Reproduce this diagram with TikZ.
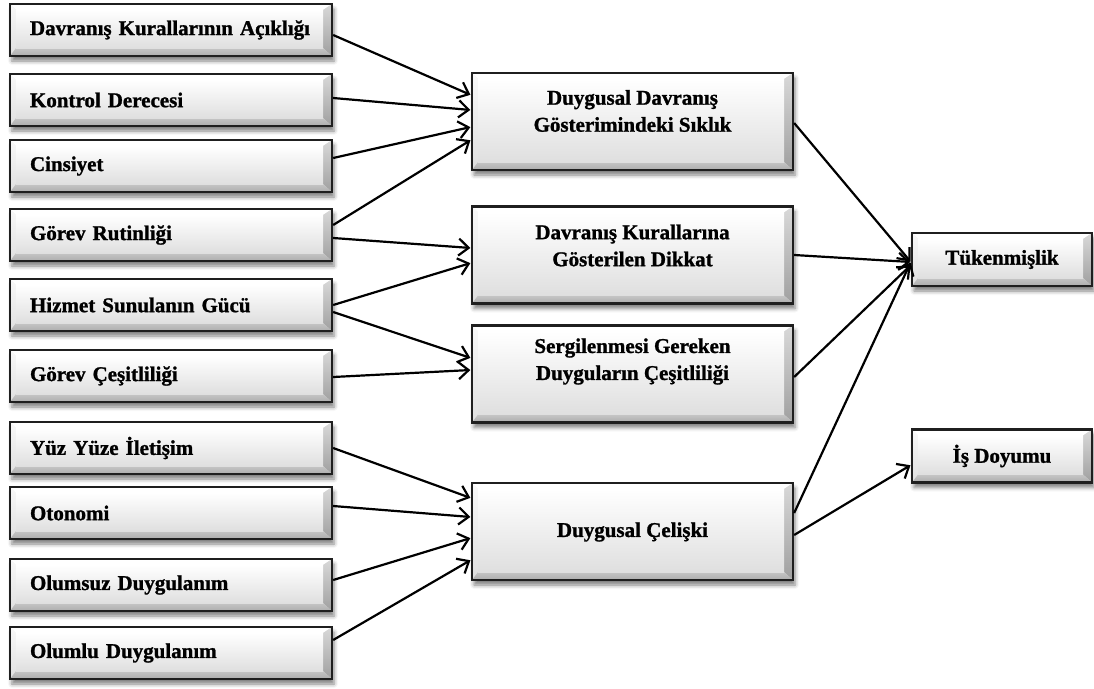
\documentclass[tikz,border=0pt]{standalone}
\usepackage{fontspec}
\setmainfont{Liberation Serif}[BoldFeatures={FakeBold=1.2}]
\usetikzlibrary{arrows.meta,shadows.blur}
\begin{document}
\begin{tikzpicture}[x=1pt,y=-1pt,
  bevbox/.style={draw=black!88, line width=2.3pt, rectangle, fill=gray!20,
    blur shadow={shadow xshift=2pt, shadow yshift=-5pt, shadow blur radius=4pt, shadow opacity=50},
    path picture={
      \coordinate (ppnw) at (path picture bounding box.north west);
      \coordinate (ppne) at (path picture bounding box.north east);
      \coordinate (ppsw) at (path picture bounding box.south west);
      \coordinate (ppse) at (path picture bounding box.south east);
      \fill[white] (ppnw) -- (ppne) -- ([shift={(-9pt,-6pt)}]ppne) -- ([shift={(6pt,-6pt)}]ppnw) -- cycle;
      \shade[top color=gray!5, bottom color=gray!25] (ppnw) -- ([shift={(6pt,-6pt)}]ppnw) -- ([shift={(6pt,8pt)}]ppsw) -- (ppsw) -- cycle;
      \shade[top color=gray!30, bottom color=gray!75] (ppne) -- (ppse) -- ([shift={(-9pt,8pt)}]ppse) -- ([shift={(-9pt,-6pt)}]ppne) -- cycle;
      \shade[top color=gray!45, bottom color=gray!65] (ppsw) -- ([shift={(6pt,8pt)}]ppsw) -- ([shift={(-9pt,8pt)}]ppse) -- (ppse) -- cycle;
      \shade[top color=white, bottom color=gray!25] ([shift={(6pt,-6pt)}]ppnw) rectangle ([shift={(-9pt,8pt)}]ppse);
    }},
  lbox/.style={bevbox, minimum width=322pt, minimum height=52pt, text width=282pt,
    inner xsep=0pt, align=left, font=\bfseries\fontsize{21}{26}\selectfont},
  mbox/.style={bevbox, minimum width=321pt, minimum height=97pt},
  rbox/.style={bevbox, minimum width=180pt, minimum height=53pt, font=\bfseries\fontsize{21}{26}\selectfont},
  txt/.style={align=center, inner sep=0pt, font=\bfseries\fontsize{21}{27}\selectfont},
  arr/.style={line width=2.2pt, -{Straight Barb[length=10pt,width=17pt,line width=2.2pt]}, shorten >=0.5pt}
]
\useasboundingbox (0,0) rectangle (1094,688);

% left column
\node[lbox] (L1) at (171,30) {Davranış Kurallarının Açıklığı};
\node[lbox] (L2) at (171,100) {Kontrol Derecesi};
\node[lbox] (L3) at (171,166) {Cinsiyet};
\node[lbox] (L4) at (171,235) {Görev Rutinliği};
\node[lbox] (L5) at (171,305) {Hizmet Sunulanın Gücü};
\node[lbox] (L6) at (171,376) {Görev Çeşitliliği};
\node[lbox] (L7) at (171,448) {Yüz Yüze İletişim};
\node[lbox] (L8) at (171,513) {Otonomi};
\node[lbox] (L9) at (171,585) {Olumsuz Duygulanım};
\node[lbox] (L10) at (171,653) {Olumlu Duygulanım};

% middle column
\node[mbox] (A) at (632.5,121.5) {};
\node[txt] (At) at ([yshift=10.5pt]A.center) {Duygusal Davranış\\Gösterimindeki Sıklık};
\node[mbox] (B) at (632.5,255) {};
\node[txt] (Bt) at ([yshift=9.5pt]B.center) {Davranış Kurallarına\\Gösterilen Dikkat};
\node[mbox] (C) at (632.5,374) {};
\node[txt] (Ct) at ([yshift=12.5pt]C.center) {Sergilenmesi Gereken\\Duyguların Çeşitliliği};
\node[mbox] (D) at (632.5,531.5) {};
\node[txt] (Dt) at ([yshift=-0.5pt]D.center) {Duygusal Çelişki};

% right column
\node[rbox] (T) at (1002,259.5) {Tükenmişlik};
\node[rbox] (I) at (1002,456) {İş Doyumu};

% connectors left -> middle
\draw[arr] ([yshift=-5pt]L1.east) -- ([yshift=26.5pt]A.west);
\draw[arr] ([yshift=2pt]L2.east) -- ([yshift=11.5pt]A.west);
\draw[arr] ([yshift=8pt]L3.east) -- ([yshift=-5.5pt]A.west);
\draw[arr] ([yshift=10pt]L4.east) -- ([yshift=-18.5pt]A.west);
\draw[arr] ([yshift=-3pt]L4.east) -- ([yshift=7pt]B.west);
\draw[arr] ([yshift=0pt]L5.east) -- ([yshift=-8pt]B.west);
\draw[arr] ([yshift=-7pt]L5.east) -- ([yshift=16pt]C.west);
\draw[arr] ([yshift=-1pt]L6.east) -- ([yshift=4pt]C.west);
\draw[arr] ([yshift=0pt]L7.east) -- ([yshift=33.5pt]D.west);
\draw[arr] ([yshift=7pt]L8.east) -- ([yshift=14.5pt]D.west);
\draw[arr] ([yshift=5pt]L9.east) -- ([yshift=-6.5pt]D.west);
\draw[arr] ([yshift=13pt]L10.east) -- ([yshift=-28.5pt]D.west);

% connectors middle -> right
\draw[arr] ([yshift=-1.5pt]A.east) -- ([yshift=-2.5pt]T.west);
\draw[arr] ([yshift=0pt]B.east) -- ([yshift=-2.5pt]T.west);
\draw[arr] ([yshift=-3pt]C.east) -- ([yshift=-5.5pt]T.west);
\draw[arr] ([yshift=18.5pt]D.east) -- ([yshift=-2.5pt]T.west);
\draw[arr] ([yshift=-3.5pt]D.east) -- ([yshift=-9pt]I.west);
\end{tikzpicture}
\end{document}
